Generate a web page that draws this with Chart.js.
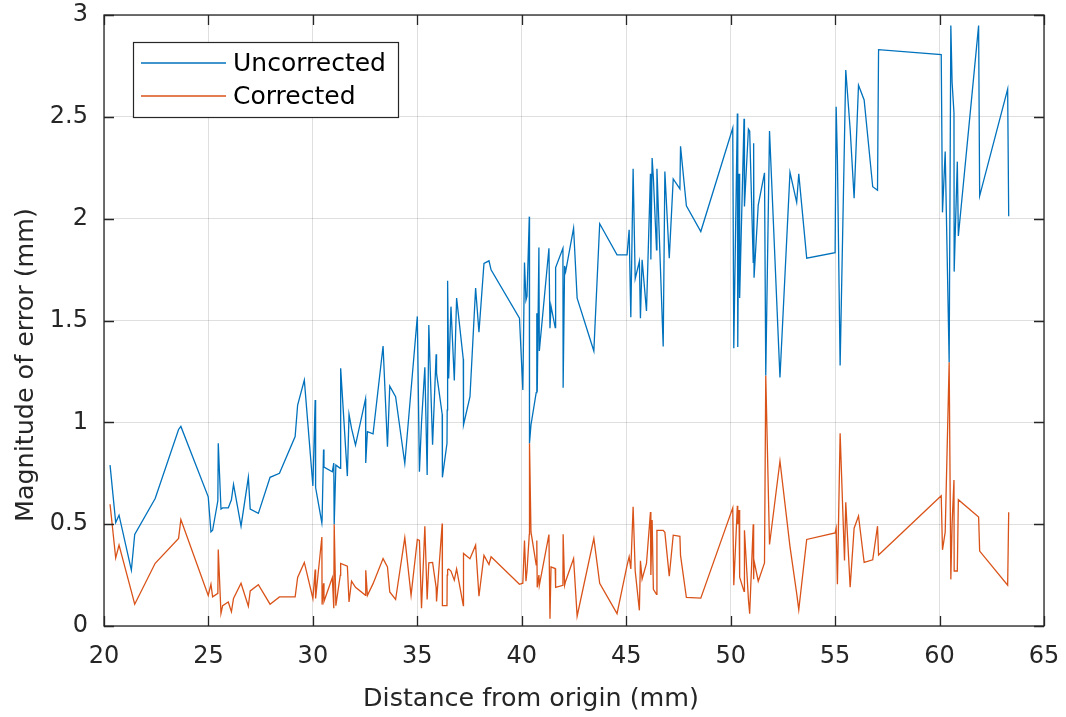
<!DOCTYPE html>
<html>
<head>
<meta charset="utf-8">
<script src="https://cdn.jsdelivr.net/npm/chart.js@4.4.1/dist/chart.umd.min.js"></script>
<style>
html,body{margin:0;padding:0;background:#fff;}
canvas{display:block;}
</style>
</head>
<body>
<canvas id="c" width="1066" height="717"></canvas>
<script>
const distance = [
  20.29,20.56,20.72,21.31,21.47,22.45,23.57,23.68,24.99,25.12,
  25.2,25.45,25.47,25.6,25.68,25.95,26.1,26.2,26.56,26.91,
  27.0,27.39,27.95,28.4,29.15,29.27,29.59,30.0,30.11,30.13,
  30.43,30.44,30.51,30.53,30.93,31.0,31.02,31.1,31.31,31.33,
  31.65,31.73,31.85,32.04,32.52,32.53,32.61,32.88,33.36,33.57,
  33.68,33.96,34.4,34.7,35.0,35.1,35.2,35.36,35.47,35.55,
  35.73,35.9,35.92,36.19,36.2,36.42,36.43,36.45,36.5,36.61,
  36.77,36.88,37.2,37.21,37.52,37.79,37.95,38.19,38.43,38.53,
  39.89,40.05,40.13,40.2,40.25,40.36,40.37,40.44,40.69,40.72,
  40.74,40.82,40.84,41.3,41.35,41.4,41.6,41.62,41.97,41.98,
  42.05,42.1,42.48,42.65,43.45,43.73,44.56,45.04,45.14,45.22,
  45.33,45.43,45.63,45.68,45.76,45.97,46.16,46.18,46.24,46.3,
  46.45,46.47,46.77,46.85,47.06,47.25,47.57,47.6,47.88,48.57,
  50.1,50.15,50.32,50.34,50.4,50.43,50.64,50.66,50.85,50.91,
  51.08,51.1,51.12,51.32,51.62,51.68,51.86,52.36,52.84,53.16,
  53.26,53.64,55.0,55.05,55.11,55.24,55.45,55.51,55.72,55.91,
  56.12,56.39,56.8,57.03,57.08,60.08,60.14,60.27,60.46,60.54,
  60.6,60.69,60.7,60.85,60.9,61.87,61.92,63.26,63.31
];
const uncorrected = [
  0.79,0.508,0.544,0.274,0.45,0.626,0.965,0.98,0.634,0.462,
  0.47,0.615,0.897,0.574,0.58,0.58,0.62,0.695,0.49,0.73,
  0.574,0.553,0.73,0.75,0.93,1.085,1.208,0.688,1.11,0.68,
  0.506,0.52,0.867,0.78,0.757,0.8,0.5,0.79,0.774,1.265,
  0.736,1.039,0.97,0.888,1.115,0.8,0.954,0.943,1.375,0.88,
  1.178,1.126,0.798,1.16,1.52,0.757,1.0,1.27,0.741,1.478,
  0.89,1.334,1.24,1.04,0.73,0.897,1.06,1.695,1.215,1.568,
  1.205,1.61,1.31,0.987,1.126,1.659,1.442,1.78,1.793,1.749,
  1.511,1.159,1.785,1.6,1.62,2.01,0.897,0.987,1.146,1.536,
  1.15,1.858,1.35,1.855,1.462,1.57,1.465,1.76,1.855,1.17,
  1.768,1.74,1.954,1.61,1.35,1.975,1.822,1.822,1.945,1.516,
  2.245,1.705,1.79,1.511,1.798,1.547,2.22,1.8,2.298,2.2,
  1.847,2.245,1.372,2.232,1.806,2.195,2.146,2.355,2.063,1.937,
  2.445,1.364,2.516,1.37,2.22,1.61,2.49,2.06,2.44,2.43,
  1.785,2.37,1.71,2.067,2.225,1.23,2.43,1.22,2.227,2.08,
  2.22,1.806,1.833,2.55,2.29,1.279,2.4,2.73,2.44,2.10,
  2.655,2.583,2.157,2.14,2.83,2.806,2.031,2.33,1.295,2.948,
  2.67,2.52,1.74,2.28,1.915,2.948,2.112,2.636,2.012
];
const corrected = [
  0.598,0.334,0.397,0.17,0.107,0.308,0.43,0.523,0.15,0.205,
  0.143,0.16,0.376,0.062,0.1,0.118,0.07,0.135,0.21,0.097,
  0.172,0.203,0.107,0.143,0.143,0.238,0.312,0.135,0.277,0.135,
  0.437,0.105,0.21,0.12,0.238,0.087,0.5,0.1,0.249,0.307,
  0.294,0.118,0.22,0.19,0.151,0.274,0.15,0.208,0.331,0.29,
  0.167,0.13,0.434,0.151,0.425,0.42,0.087,0.49,0.13,0.31,
  0.312,0.19,0.12,0.503,0.1,0.1,0.25,0.277,0.28,0.27,
  0.225,0.28,0.1,0.356,0.33,0.397,0.146,0.347,0.302,0.34,
  0.205,0.21,0.42,0.22,0.27,0.45,0.897,0.462,0.3,0.42,
  0.19,0.25,0.2,0.449,0.036,0.29,0.282,0.19,0.2,0.45,
  0.2,0.22,0.331,0.048,0.43,0.21,0.061,0.298,0.34,0.28,
  0.585,0.27,0.077,0.32,0.23,0.307,0.56,0.25,0.52,0.18,
  0.156,0.47,0.47,0.46,0.244,0.446,0.44,0.347,0.14,0.137,
  0.58,0.2,0.59,0.5,0.57,0.24,0.17,0.47,0.13,0.06,
  0.5,0.23,0.32,0.22,0.31,1.23,0.4,0.81,0.39,0.16,
  0.08,0.425,0.457,0.48,0.205,0.946,0.322,0.607,0.19,0.48,
  0.54,0.312,0.325,0.49,0.349,0.64,0.374,0.461,1.295,0.229,
  0.5,0.717,0.27,0.27,0.62,0.535,0.368,0.2,0.558
];
const seriesNames = ['Uncorrected','Corrected'];
const xTicks = [20,25,30,35,40,45,50,55,60,65];
const yTicks = [0,0.5,1,1.5,2,2.5,3];

const BLUE = '#0072BD', ORANGE = '#D95319', AX = '#262626';
const FONT = '"DejaVu Sans", sans-serif';

const toPts = ys => distance.map((x, i) => ({x, y: ys[i]}));

const framePlugin = {
  id: 'frame',
  afterDraw(chart) {
    const ctx = chart.ctx;
    const {left, right, top, bottom} = chart.chartArea;
    const xs = chart.scales.x, ys = chart.scales.y;
    ctx.save();
    ctx.strokeStyle = AX;
    ctx.lineWidth = 1.3;
    ctx.beginPath();
    const tl = 10;
    xTicks.forEach(v => {
      const px = Math.round(xs.getPixelForValue(v)) + 0.5;
      ctx.moveTo(px, bottom); ctx.lineTo(px, bottom - tl);
      ctx.moveTo(px, top); ctx.lineTo(px, top + tl);
    });
    yTicks.forEach(v => {
      const py = Math.round(ys.getPixelForValue(v)) + 0.5;
      ctx.moveTo(left, py); ctx.lineTo(left + tl, py);
      ctx.moveTo(right, py); ctx.lineTo(right - tl, py);
    });
    ctx.stroke();
    ctx.strokeRect(left, top, right - left, bottom - top);

    ctx.fillStyle = AX;
    ctx.font = '25.4px ' + FONT;
    ctx.textAlign = 'center';
    ctx.textBaseline = 'alphabetic';
    ctx.fillText('Distance from origin (mm)', 531, 706);
    ctx.save();
    ctx.translate(33, 365);
    ctx.rotate(-Math.PI / 2);
    ctx.fillText('Magnitude of error (mm)', 0, 0);
    ctx.restore();

    const lx = 133, ly = 42, lw = 265, lh = 75;
    ctx.fillStyle = '#fff';
    ctx.fillRect(lx, ly, lw, lh);
    ctx.lineWidth = 1.2;
    ctx.strokeStyle = AX;
    ctx.strokeRect(lx + 0.5, ly + 0.5, lw, lh);
    const rows = [[seriesNames[0], BLUE, 63], [seriesNames[1], ORANGE, 96]];
    ctx.font = '25px ' + FONT;
    ctx.textAlign = 'left';
    ctx.textBaseline = 'middle';
    rows.forEach(([t, c, y]) => {
      ctx.strokeStyle = c;
      ctx.lineWidth = 1.3;
      ctx.beginPath();
      ctx.moveTo(141, y); ctx.lineTo(226, y);
      ctx.stroke();
      ctx.fillStyle = '#000';
      ctx.fillText(t, 233, y + 1);
    });
    ctx.restore();
  }
};

new Chart(document.getElementById('c'), {
  type: 'line',
  data: {
    datasets: [
      {label: seriesNames[0], data: toPts(uncorrected), borderColor: BLUE, borderWidth: 1.3, pointRadius: 0, tension: 0, fill: false},
      {label: seriesNames[1], data: toPts(corrected), borderColor: ORANGE, borderWidth: 1.3, pointRadius: 0, tension: 0, fill: false}
    ]
  },
  options: {
    responsive: false,
    animation: false,
    layout: {padding: {top: 15, right: 22, left: 0, bottom: 0}},
    plugins: {legend: {display: false}, tooltip: {enabled: false}},
    scales: {
      x: {
        type: 'linear', min: 20, max: 65,
        afterBuildTicks: s => { s.ticks = xTicks.map(v => ({value: v})); },
        afterFit: s => { s.height = 91; s.paddingLeft = 0; s.paddingRight = 0; s.paddingTop = 0; s.paddingBottom = 0; },
        grid: {color: 'rgba(38,38,38,0.15)', drawTicks: false, lineWidth: 1},
        border: {display: false},
        ticks: {padding: 16, color: AX, font: {family: FONT, size: 24}, maxRotation: 0, callback: v => String(v)}
      },
      y: {
        type: 'linear', min: 0, max: 3,
        afterBuildTicks: s => { s.ticks = yTicks.map(v => ({value: v})); },
        afterFit: s => { s.width = 104; s.paddingLeft = 0; s.paddingRight = 0; s.paddingTop = 0; s.paddingBottom = 0; },
        grid: {color: 'rgba(38,38,38,0.15)', drawTicks: false, lineWidth: 1},
        border: {display: false},
        ticks: {padding: 16, color: AX, font: {family: FONT, size: 24}, callback: v => String(v)}
      }
    }
  },
  plugins: [framePlugin]
});
</script>
</body>
</html>
